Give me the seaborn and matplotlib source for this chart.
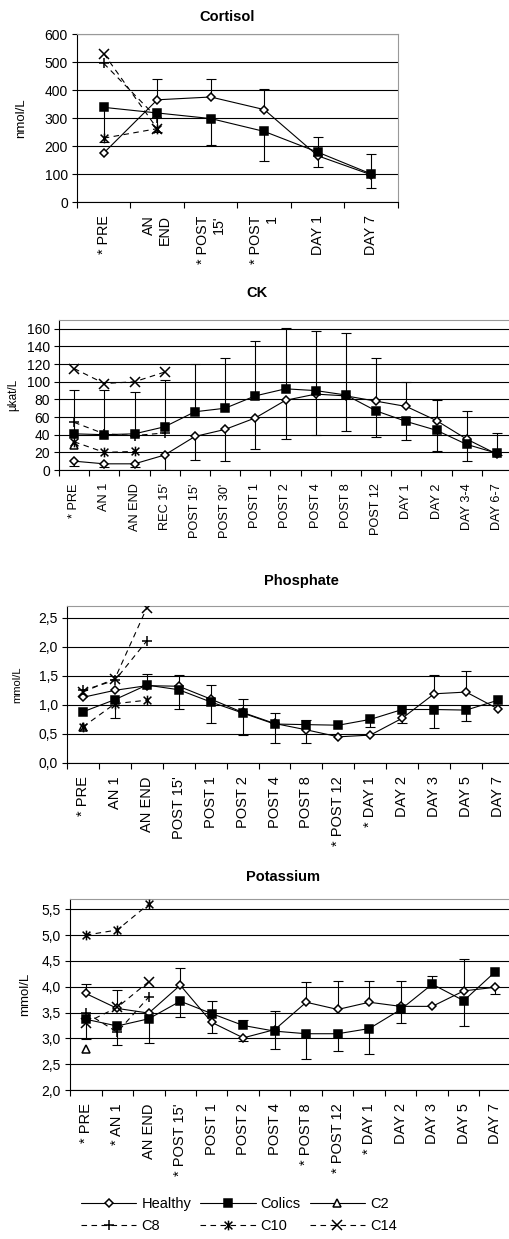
import numpy as np
import matplotlib
matplotlib.use("Agg")
import matplotlib.pyplot as plt
from matplotlib.path import Path
from matplotlib.ticker import FixedLocator, FuncFormatter
import seaborn as sns

nan = np.nan

# ---------------- Cortisol (nmol/L) ----------------
cortisol_labels = ["* PRE", "AN\nEND", "* POST\n15'", "* POST\n1", "DAY 1", "DAY 7"]
cortisol_healthy = [175, 365, 375, 330, 165, 97]
cortisol_colics = [338, 318, 298, 252, 178, 100]
cortisol_healthy_upper = [nan, 438, 440, 402, 233, 170]
cortisol_healthy_lower = [nan, nan, nan, nan, nan, nan]
cortisol_colics_upper = [nan, nan, nan, nan, nan, nan]
cortisol_colics_lower = [215, 250, 205, 145, 125, 50]
cortisol_c2 = []
cortisol_c8 = [495, 300]
cortisol_c10 = [228, 262]
cortisol_c14 = [530, 262]

# ---------------- CK (µkat/L) ----------------
ck_labels = ["* PRE", "AN 1", "AN END", "REC 15'", "POST 15'", "POST 30'", "POST 1",
             "POST 2", "POST 4", "POST 8", "POST 12", "DAY 1", "DAY 2", "DAY 3-4", "DAY 6-7"]
ck_healthy = [10, 7, 7, 17, 38, 46, 59, 79, 86, 84, 78, 72, 56, 35, 18]
ck_colics = [41, 40, 41, 49, 66, 70, 84, 92, 90, 85, 67, 55, 45, 29, 19]
ck_healthy_upper = [nan] * 10 + [127, 100, 79, 67, 42]
ck_healthy_lower = [5, 3, 3, 0, 11, 10, 24, 35, 40, 44, nan, nan, nan, nan, nan]
ck_colics_upper = [91, 91, 88, 102, 120, 127, 146, 161, 157, 155, nan, nan, nan, nan, nan]
ck_colics_lower = [nan] * 10 + [37, 34, 21, 10, 17]
ck_c2 = [28]
ck_c8 = [54, 41, 39, 42]
ck_c10 = [32, 20, 21]
ck_c14 = [115, 98, 100, 111]

# ---------------- Phosphate (mmol/L) ----------------
ph_labels = ["* PRE", "AN 1", "AN END", "POST 15'", "POST 1", "POST 2", "POST 4",
             "POST 8", "* POST 12", "* DAY 1", "DAY 2", "DAY 3", "DAY 5", "DAY 7"]
ph_healthy = [1.13, 1.25, 1.33, 1.32, 1.10, 0.87, 0.68, 0.57, 0.45, 0.48, 0.77, 1.19, 1.22, 0.93]
ph_colics = [0.88, 1.09, 1.34, 1.26, 1.05, 0.86, 0.67, 0.66, 0.65, 0.75, 0.92, 0.92, 0.91, 1.08]
ph_healthy_upper = [nan, nan, 1.53, 1.52, 1.34, 1.10, 0.86, 0.74, nan, nan, nan, 1.51, 1.59, nan]
ph_healthy_lower = [nan, nan, nan, nan, nan, nan, nan, nan, nan, nan, 0.68, nan, nan, nan]
ph_colics_upper = [nan] * 14
ph_colics_lower = [nan, 0.78, nan, 0.93, 0.69, 0.49, 0.34, 0.35, nan, 0.62, nan, 0.60, 0.73, nan]
ph_c2 = [0.62]
ph_c8 = [1.25, 1.42, 2.10]
ph_c10 = [0.62, 1.02, 1.08]
ph_c14 = [1.22, 1.45, 2.67]

# ---------------- Potassium (mmol/L) ----------------
k_labels = ["* PRE", "* AN 1", "AN END", "* POST 15'", "POST 1", "POST 2", "POST 4",
            "* POST 8", "* POST 12", "* DAY 1", "DAY 2", "DAY 3", "DAY 5", "DAY 7"]
k_healthy = [3.87, 3.58, 3.49, 4.03, 3.31, 3.01, 3.17, 3.70, 3.56, 3.70, 3.62, 3.62, 3.92, 3.99]
k_colics = [3.37, 3.24, 3.38, 3.72, 3.48, 3.25, 3.14, 3.09, 3.09, 3.19, 3.56, 4.05, 3.73, 4.29]
k_healthy_upper = [4.06, 3.93, nan, 4.37, nan, nan, 3.53, 4.09, 4.12, 4.11, 4.11, nan, 4.53, nan]
k_healthy_lower = [nan, nan, nan, nan, 3.10, 2.95, nan, nan, nan, nan, nan, nan, nan, 3.85]
k_colics_upper = [nan, nan, nan, nan, 3.72, 3.36, nan, nan, nan, nan, nan, 4.20, nan, nan]
k_colics_lower = [2.99, 2.87, 2.91, 3.42, nan, nan, 2.80, 2.60, 2.76, 2.70, 3.29, nan, 3.24, nan]
k_c2 = [2.79]
k_c8 = [3.50, 3.12, 3.80]
k_c10 = [5.00, 5.10, 5.60]
k_c14 = [3.30, 3.60, 4.10]

# ---------------- styling ----------------
sns.set_style("white")
plt.rcParams["font.family"] = ["Liberation Sans", "DejaVu Sans"]
for key in ("text.color", "axes.labelcolor", "xtick.color", "ytick.color"):
    plt.rcParams[key] = "black"

W, H = 510, 1239
fig = plt.figure(figsize=(W / 100, H / 100), dpi=100)

# asterisk marker: a cross with a vertical bar
star = Path([(-1, -1), (1, 1), (-1, 1), (1, -1), (0, -1.25), (0, 1.25)],
            [Path.MOVETO, Path.LINETO, Path.MOVETO, Path.LINETO, Path.MOVETO, Path.LINETO])

LW = 0.8
DASH = (0, (5, 4))
series_style = {
    "Healthy": dict(marker="D", markersize=4.4, markerfacecolor="white", linestyle="-"),
    "Colics": dict(marker="s", markersize=6.0, markerfacecolor="black", linestyle="-"),
    "C2": dict(marker="^", markersize=5.8, markerfacecolor="white", linestyle="-"),
    "C8": dict(marker="+", markersize=7.5, markerfacecolor="none", linestyle=DASH),
    "C10": dict(marker=star, markersize=7, markerfacecolor="none", linestyle=DASH),
    "C14": dict(marker="x", markersize=6.5, markerfacecolor="none", linestyle=DASH),
}


def px_axes(left, top, right, bottom):
    return fig.add_axes([left / W, 1 - bottom / H, (right - left) / W, (bottom - top) / H])


def draw_errors(ax, means, ends):
    xs = [i for i, e in enumerate(ends) if not np.isnan(e)]
    if not xs:
        return
    m = [means[i] for i in xs]
    e = [ends[i] for i in xs]
    ax.vlines(xs, m, e, color="black", lw=LW, zorder=2)
    ax.plot(xs, e, linestyle="none", marker="_", markersize=6.5,
            markeredgewidth=LW, color="black", zorder=2)


def panel(ax, labels, healthy, colics, h_up, h_lo, c_up, c_lo, c2, c8, c10, c14,
          yticks, ylim, ylabel, ylabel_size, ylabel_x, xtick_size, fmt=None, label=False):
    n = len(labels)
    pos = np.arange(n)
    for ends in (h_up, h_lo):
        draw_errors(ax, healthy, ends)
    for ends in (c_up, c_lo):
        draw_errors(ax, colics, ends)

    groups = [("Healthy", healthy), ("Colics", colics), ("C2", c2),
              ("C8", c8), ("C10", c10), ("C14", c14)]
    for name, vals in groups:
        if len(vals) == 0:
            continue
        st = series_style[name]
        kw = dict(label=name) if label else {}
        sns.lineplot(x=pos[:len(vals)], y=vals, ax=ax, color="black",
                     linewidth=LW, linestyle=st["linestyle"], marker=st["marker"],
                     markersize=st["markersize"], markerfacecolor=st["markerfacecolor"],
                     markeredgecolor="black", markeredgewidth=1.1, zorder=3, **kw)

    ax.set_xlim(-0.5, n - 0.5)
    ax.set_ylim(*ylim)
    ax.set_yticks(yticks)
    if fmt:
        ax.yaxis.set_major_formatter(FuncFormatter(fmt))
    ax.set_xticks(pos)
    ax.set_xticklabels(labels, rotation=90, ha="center", va="top",
                       multialignment="right", fontsize=xtick_size)
    ax.xaxis.set_minor_locator(FixedLocator(np.arange(n + 1) - 0.5))
    ax.tick_params(axis="x", which="major", length=0, pad=9.5, colors="black")
    ax.tick_params(axis="x", which="minor", length=4, width=LW, direction="out",
                   color="black", bottom=True)
    ax.tick_params(axis="y", which="major", length=3.5, width=LW, direction="out",
                   colors="black", left=True, labelsize=10, pad=3)
    ax.set_axisbelow(True)
    ax.yaxis.grid(True, color="black", linewidth=LW)
    ax.xaxis.grid(False)
    for side in ("left", "bottom"):
        ax.spines[side].set_color("black")
        ax.spines[side].set_linewidth(LW)
    for side in ("top", "right"):
        ax.spines[side].set_color("#999999")
        ax.spines[side].set_linewidth(LW)
        ax.spines[side].set_visible(True)
    ax.set_xlabel("")
    ax.set_ylabel(ylabel, fontsize=ylabel_size, color="black")
    ax.yaxis.set_label_coords(ylabel_x, 0.5)
    ax.yaxis.label.set_va("center")


comma = lambda v, p: f"{v:.1f}".replace(".", ",")

ax1 = px_axes(77, 34, 398, 202)
panel(ax1, cortisol_labels, cortisol_healthy, cortisol_colics,
      cortisol_healthy_upper, cortisol_healthy_lower, cortisol_colics_upper, cortisol_colics_lower,
      cortisol_c2, cortisol_c8, cortisol_c10, cortisol_c14,
      yticks=np.arange(0, 601, 100), ylim=(0, 600), ylabel="nmol/L", ylabel_size=9.5,
      ylabel_x=-0.175, xtick_size=10.3)

ax2 = px_axes(59, 320, 512, 470)
panel(ax2, ck_labels, ck_healthy, ck_colics,
      ck_healthy_upper, ck_healthy_lower, ck_colics_upper, ck_colics_lower,
      ck_c2, ck_c8, ck_c10, ck_c14,
      yticks=np.arange(0, 161, 20), ylim=(0, 170), ylabel="µkat/L", ylabel_size=8.5,
      ylabel_x=-0.101, xtick_size=9.2)
ax2.spines["right"].set_visible(False)

ax3 = px_axes(67, 606, 514, 763)
panel(ax3, ph_labels, ph_healthy, ph_colics,
      ph_healthy_upper, ph_healthy_lower, ph_colics_upper, ph_colics_lower,
      ph_c2, ph_c8, ph_c10, ph_c14,
      yticks=np.arange(0, 2.51, 0.5), ylim=(0, 2.7), ylabel="mmol/L", ylabel_size=8,
      ylabel_x=-0.112, xtick_size=10.5, fmt=comma)
ax3.spines["right"].set_visible(False)

ax4 = px_axes(70, 899, 511, 1090)
panel(ax4, k_labels, k_healthy, k_colics,
      k_healthy_upper, k_healthy_lower, k_colics_upper, k_colics_lower,
      k_c2, k_c8, k_c10, k_c14,
      yticks=np.arange(2.0, 5.51, 0.5), ylim=(2.0, 5.7), ylabel="mmol/L", ylabel_size=9.5,
      ylabel_x=-0.102, xtick_size=10.5, fmt=comma, label=True)
ax4.spines["right"].set_visible(False)

# panel titles
for text, x, y in [("Cortisol", 227, 17), ("CK", 257, 293),
                   ("Phosphate", 301, 581), ("Potassium", 283, 877)]:
    fig.text(x / W, 1 - y / H, text, ha="center", va="center",
             fontsize=10.5, fontweight="bold", color="black")

# shared legend below the panels
handles, names = ax4.get_legend_handles_labels()
if ax4.get_legend() is not None:
    ax4.get_legend().remove()
lookup = dict(zip(names, handles))
order = ["Healthy", "C8", "Colics", "C10", "C2", "C14"]
fig.legend([lookup[o] for o in order], order, ncol=3, loc="upper left",
           bbox_to_anchor=(81 / W, 1 - 1197 / H), frameon=False, fontsize=10.5,
           handlelength=3.8, handletextpad=0.35, columnspacing=0.6,
           labelspacing=0.55, borderpad=0, borderaxespad=0, labelcolor="black")

fig.savefig("out.png", dpi=100, facecolor="white")
